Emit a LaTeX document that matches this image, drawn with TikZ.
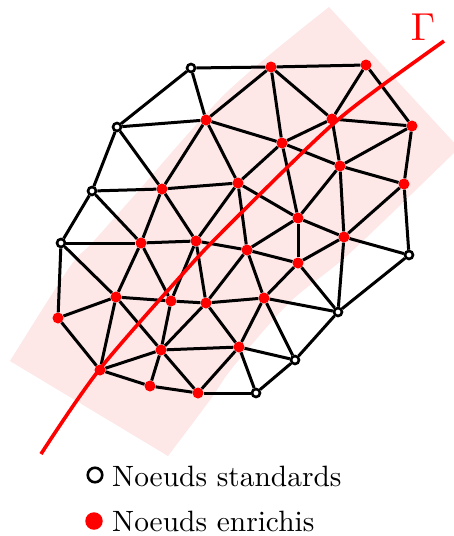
\documentclass[tikz,border=0pt]{standalone}
\usepackage{graphicx}
\definecolor{zonepink}{RGB}{253,231,231}
\definecolor{gammared}{RGB}{255,0,0}
\tikzset{
  x=1pt,y=-1pt,
  open/.style={circle,draw=black,fill=white,line width=2.6pt,minimum size=8pt,inner sep=0pt},
  enr/.style={circle,fill=gammared,minimum size=11pt,inner sep=0pt},
  edge/.style={draw=black,line width=3pt},
  legtext/.style={anchor=base west,inner sep=0pt},
}
\begin{document}
\begin{tikzpicture}
\useasboundingbox (0,0) rectangle (454,536);
\begin{scope}
\clip (0,0) rectangle (454,536);
\fill[zonepink] plot[smooth,tension=0.5] coordinates {(10,361) (69,268) (92,243) (133,197) (227,92) (329,7)}
  -- (459,148)
  -- plot[smooth,tension=0.5] coordinates {(459,148) (350,253) (290,302) (233,367) (210,400) (168,456)} -- cycle;
\end{scope}
% standard nodes
\foreach \n/\x/\y in {a/191/68,b/117/127,c/92/191,d/61/243,e/409/255,f/338/312,g/295/360,h/256/393}
  \node[open] (\n) at (\x,\y) {};
% enriched nodes
\foreach \n/\x/\y in {n1/271/67,n2/366/65,n3/206/120,n4/332/119,n5/412/126,n6/282/143,n7/340/166,n8/404/184,n9/238/183,n10/162/189,n11/298/218,n12/344/237,n13/141/243,n14/196/241,n15/247/250,n16/298/263,n17/116/297,n18/171/301,n19/206/303,n20/264/298,n21/58/318,n22/161/350,n23/239/347,n24/100/370,n25/150/386,n26/198/393}
  \node[enr] (\n) at (\x,\y) {};
% mesh
\foreach \p/\q in {a/n1,n1/n2,a/b,a/n3,b/n3,b/c,b/n10,c/d,c/n10,c/n13,d/n13,d/n17,d/n21,n10/n3,n10/n14,n10/n13,n10/n9,n3/n1,n3/n9,n3/n6,n1/n6,n1/n4,n2/n4,n2/n5,n4/n5,n4/n6,n4/n7,n5/n7,n5/n8,n6/n9,n6/n7,n6/n11,n7/n8,n7/n11,n7/n12,n8/n12,n8/e,n9/n14,n9/n11,n9/n15,n11/n15,n11/n16,n11/n12,n12/n16,n12/f,n12/e,n15/n16,n16/f,n16/n20,n15/n20,n15/n19,n14/n15,n14/n13,n14/n18,n14/n19,n13/n17,n13/n18,n17/n18,n18/n19,n19/n20,n20/f,n20/g,n20/n23,n19/n23,n19/n22,n18/n22,n17/n22,n17/n24,n17/n21,n21/n24,n24/n22,n24/n25,n25/n22,n25/n26,n22/n26,n22/n23,n23/n26,n23/g,n23/h,n26/h,h/g,g/f,f/e}
  \draw[edge] (\p) -- (\q);
% interface
\draw[gammared,line width=3.6pt] plot[smooth,tension=0.5] coordinates {(41,454) (99,370) (188,268) (227,227) (302,153) (340,118) (380,87) (444,41)};
\node[text=gammared,inner sep=0pt] (gam) at (423,27) {\scalebox{3.9}{$\Gamma$}};
% legend
\node[circle,draw=black,fill=white,line width=2.6pt,minimum size=14.5pt,inner sep=0pt] (l1) at (95,475) {};
\node[circle,fill=gammared,minimum size=17.5pt,inner sep=0pt] (l2) at (94,521) {};
\node[legtext] (t1) at (112,486) {\scalebox{2.94}{Noeuds standards}};
\node[legtext] (t2) at (112,531) {\scalebox{2.94}{Noeuds enrichis}};
\end{tikzpicture}
\end{document}
